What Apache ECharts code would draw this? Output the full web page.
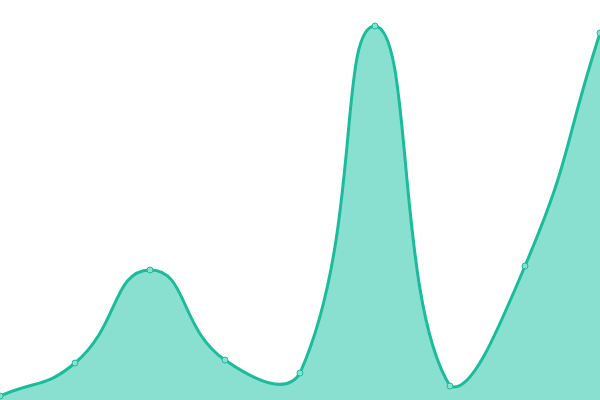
<!DOCTYPE html>
<html><head><meta charset="utf-8">
<script src="https://cdn.jsdelivr.net/npm/echarts@6/dist/echarts.min.js"></script>
<style>html,body{margin:0;padding:0;background:#fff}#c{width:600px;height:400px}</style>
</head><body><div id="c"></div>
<script>
const categories = ['1','2','3','4','5','6','7','8','9'];
const values = [4, 37, 130, 40, 27, 374, 14, 134, 367];
const SMOOTH = 0.5;

function smoothPath(pts) {
  let minX = Infinity, minY = Infinity, maxX = -Infinity, maxY = -Infinity;
  pts.forEach(p => { minX = Math.min(minX, p[0]); maxX = Math.max(maxX, p[0]); minY = Math.min(minY, p[1]); maxY = Math.max(maxY, p[1]); });
  const cps = [];
  const n = pts.length;
  for (let i = 0; i < n; i++) {
    const p = pts[i];
    const prev = pts[Math.max(0, i - 1)];
    const next = pts[Math.min(n - 1, i + 1)];
    const vx = (next[0] - prev[0]) * SMOOTH, vy = (next[1] - prev[1]) * SMOOTH;
    let d0 = Math.hypot(p[0] - prev[0], p[1] - prev[1]);
    let d1 = Math.hypot(p[0] - next[0], p[1] - next[1]);
    const s = d0 + d1;
    if (s !== 0) { d0 /= s; d1 /= s; }
    const c0 = [p[0] - vx * d0, p[1] - vy * d0];
    const c1 = [p[0] + vx * d1, p[1] + vy * d1];
    [c0, c1].forEach(c => {
      c[0] = Math.min(Math.max(c[0], minX), maxX);
      c[1] = Math.min(Math.max(c[1], minY), maxY);
    });
    cps.push(c0, c1);
  }
  let d = 'M' + pts[0][0] + ' ' + pts[0][1];
  for (let i = 0; i < n - 1; i++) {
    const a = cps[2 * i + 1], b = cps[2 * (i + 1)], q = pts[i + 1];
    d += ' C' + a[0] + ' ' + a[1] + ' ' + b[0] + ' ' + b[1] + ' ' + q[0] + ' ' + q[1];
  }
  return d;
}

const chart = echarts.init(document.getElementById('c'));
chart.setOption({
  animation: false,
  grid: {left: 0, right: 0, top: 0, bottom: 0},
  xAxis: {type: 'category', data: categories, boundaryGap: false, show: false},
  yAxis: {type: 'value', min: 0, max: 400, show: false},
  series: [{
    type: 'custom',
    data: [0],
    z: 1,
    renderItem: function (params, api) {
      const pts = values.map((v, i) => api.coord([i, v]));
      const base = api.coord([0, 0])[1];
      const line = smoothPath(pts);
      const area = line + ' L' + pts[pts.length - 1][0] + ' ' + base + ' L' + pts[0][0] + ' ' + base + ' Z';
      return {
        type: 'group',
        children: [
          {type: 'path', shape: {pathData: area}, style: {fill: '#8ae0d0', stroke: null}},
          {type: 'path', shape: {pathData: line}, style: {fill: null, stroke: '#1abc9c', lineWidth: 3}}
        ]
      };
    }
  }, {
    type: 'line',
    data: values,
    z: 3,
    symbol: 'circle',
    symbolSize: 6,
    lineStyle: {opacity: 0},
    itemStyle: {color: '#8ae0d0', borderColor: '#1abc9c', borderWidth: 1}
  }]
});
</script></body></html>
